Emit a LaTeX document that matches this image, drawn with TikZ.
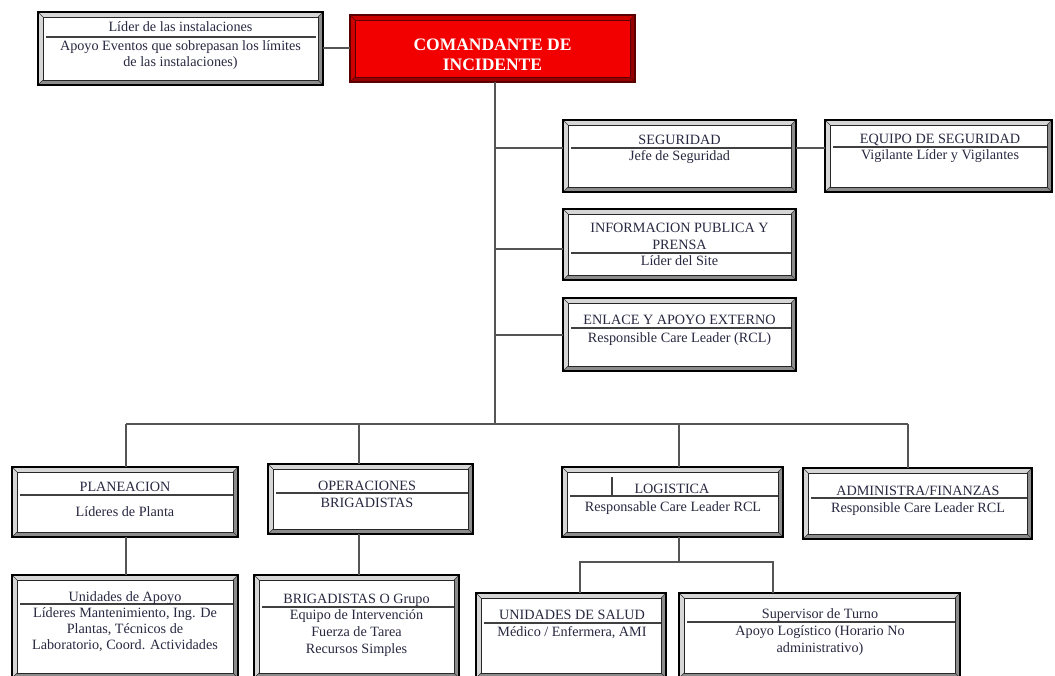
\documentclass[tikz,border=0pt]{standalone}
\usepackage{fontspec}
\setmainfont{Liberation Serif}
\definecolor{textc}{RGB}{40,40,65}
\definecolor{bevlight}{RGB}{214,214,214}
\definecolor{bevdark}{RGB}{140,140,140}
\definecolor{cmdred}{RGB}{242,0,0}
\definecolor{cmdlight}{RGB}{205,0,0}
\definecolor{cmddark}{RGB}{150,0,0}
\definecolor{cmdout}{RGB}{90,0,0}
\definecolor{connc}{RGB}{85,85,85}
\tikzset{
  bevouter/.style={draw=black, line width=1.4pt},
  bevinner/.style={draw=black!85, line width=0.9pt},
  bevdiag/.style={draw=black!80, line width=0.6pt},
  conn/.style={draw=connc, line width=1.5pt},
  divline/.style={draw=black!75, line width=1.2pt},
  txt/.style={font=\fontsize{14.2}{16}\selectfont, text=textc, inner sep=0pt, anchor=base},
  cmdtxt/.style={font=\bfseries\fontsize{17.5}{20}\selectfont, text=white, inner sep=0pt, anchor=base},
}
\newcommand{\bevelbox}[8]{%
  \pgfmathsetmacro{\bxa}{#2+5}\pgfmathsetmacro{\bya}{#3+5}%
  \pgfmathsetmacro{\bxb}{#4-5}\pgfmathsetmacro{\byb}{#5-5}%
  \fill[#6] (#2,#3) -- (#4,#3) -- (\bxb,\bya) -- (\bxa,\bya) -- (\bxa,\byb) -- (#2,#5) -- cycle;
  \fill[#7] (#4,#3) -- (#4,#5) -- (#2,#5) -- (\bxa,\byb) -- (\bxb,\byb) -- (\bxb,\bya) -- cycle;
  \draw[bevdiag] (#2,#3) -- (\bxa,\bya) (#4,#3) -- (\bxb,\bya) (#4,#5) -- (\bxb,\byb) (#2,#5) -- (\bxa,\byb);
  \filldraw[bevinner, fill=#8] (\bxa,\bya) rectangle (\bxb,\byb);
  \draw[bevouter] (#2,#3) rectangle (#4,#5);
  \node[inner sep=0pt, outer sep=0pt, minimum width={(#4-#2)*1pt}, minimum height={(#5-#3)*1pt}] (#1) at ({(#2+#4)/2},{(#3+#5)/2}) {};
}
\newcommand{\divider}[3]{\draw[divline] ({#1+8},#3) -- ({#2-5},#3);}
\begin{document}
\begin{tikzpicture}[x=1pt,y=-1pt]
\useasboundingbox (0,0) rectangle (1055,676);
\fill[white] (0,0) rectangle (1055,676);

% ---- boxes
\bevelbox{lider}{38}{12}{323}{85}{bevlight}{bevdark}{white}
\begin{scope}[bevouter/.style={draw=cmdout, line width=1.4pt}, bevinner/.style={draw=cmdout, line width=0.9pt}, bevdiag/.style={draw=cmdout, line width=0.6pt}]
\bevelbox{cmd}{350}{15}{635}{82}{cmdlight}{cmddark}{cmdred}
\end{scope}
\bevelbox{seg}{563}{120}{796}{192}{bevlight}{bevdark}{white}
\bevelbox{equ}{825}{120}{1052}{192}{bevlight}{bevdark}{white}
\bevelbox{info}{563}{209}{796}{280}{bevlight}{bevdark}{white}
\bevelbox{enl}{563}{298}{796}{371}{bevlight}{bevdark}{white}
\bevelbox{plan}{12}{467}{238}{537}{bevlight}{bevdark}{white}
\bevelbox{oper}{268}{464}{473}{534}{bevlight}{bevdark}{white}
\bevelbox{log}{562}{467}{783}{537}{bevlight}{bevdark}{white}
\bevelbox{adm}{803}{468}{1032}{539}{bevlight}{bevdark}{white}
\bevelbox{unid}{12}{575}{238}{678}{bevlight}{bevdark}{white}
\bevelbox{brig}{254}{575}{459}{678}{bevlight}{bevdark}{white}
\bevelbox{salud}{476}{593}{666}{678}{bevlight}{bevdark}{white}
\bevelbox{sup}{679}{593}{960}{678}{bevlight}{bevdark}{white}

% ---- connectors
\coordinate (ly) at (0,48);
\coordinate (tk1) at (495,148);
\coordinate (tk2) at (495,249);
\coordinate (tk3) at (495,335);
\coordinate (bus) at (495,424);
\coordinate (d1) at (126,424);
\coordinate (d2) at (359,424);
\coordinate (d3) at (679,424);
\coordinate (d4) at (908,424);
\coordinate (lg) at (679,562);
\coordinate (lgl) at (580,562);
\coordinate (lgr) at (773,562);
\draw[conn] (lider.east |- ly) -- (cmd.west |- ly);
\draw[conn] (cmd.south -| bus) -- (bus);
\draw[conn] (tk1) -- (tk1 -| seg.west);
\draw[conn] (tk1 -| seg.east) -- (tk1 -| equ.west);
\draw[conn] (tk2) -- (tk2 -| info.west);
\draw[conn] (tk3) -- (tk3 -| enl.west);
\draw[conn] (d1) -- (d4);
\draw[conn] (d1) -- (d1 |- plan.north);
\draw[conn] (d2) -- (d2 |- oper.north);
\draw[conn] (d3) -- (d3 |- log.north);
\draw[conn] (d4) -- (d4 |- adm.north);
\draw[conn] (d1 |- plan.south) -- (d1 |- unid.north);
\draw[conn] (d2 |- oper.south) -- (d2 |- brig.north);
\draw[conn] (lg |- log.south) -- (lg);
\draw[conn] (lgl |- salud.north) -- (lgl) -- (lgr) -- (lgr |- sup.north);

% ---- texts and dividers
\draw[divline] (46,37) -- (316,37);
\node[txt] (t1) at (180.5,32) {Líder de las instalaciones};
\node[txt] (t2) at (180.5,51) {Apoyo Eventos que sobrepasan los límites};
\node[txt] (t3) at (180.5,67) {de las instalaciones)};

\node[cmdtxt] (c1) at (492.5,51) {COMANDANTE DE};
\node[cmdtxt] (c2) at (492.5,71) {INCIDENTE};

\divider{563}{796}{148}
\node[txt] (s1) at (679.5,145) {SEGURIDAD};
\node[txt] (s2) at (679.5,161) {Jefe de Seguridad};

\divider{825}{1052}{147}
\node[txt] (e1) at (940,144) {EQUIPO DE SEGURIDAD};
\node[txt] (e2) at (940,160) {Vigilante Líder y Vigilantes};

\divider{563}{796}{253}
\node[txt] (i1) at (679.5,233) {INFORMACION PUBLICA Y};
\node[txt] (i2) at (679.5,250) {PRENSA};
\node[txt] (i3) at (679.5,266) {Líder del Site};

\divider{563}{796}{328}
\node[txt] (n1) at (679.5,325) {ENLACE Y APOYO EXTERNO};
\node[txt] (n2) at (679.5,342) {Responsible Care Leader (RCL)};

\divider{12}{238}{495}
\node[txt] (p1) at (125,491) {PLANEACION};
\node[txt] (p2) at (125,516) {Líderes de Planta};

\divider{268}{473}{493}
\node[txt] (o1) at (367,490) {OPERACIONES};
\node[txt] (o2) at (367,507) {BRIGADISTAS};

\divider{562}{783}{496}
\draw[divline] (612,477) -- (612,496);
\node[txt] (g1) at (672,493) {LOGISTICA};
\node[txt] (g2) at (673,511) {Responsable Care Leader RCL};

\divider{803}{1032}{498}
\node[txt] (a1) at (918,495) {ADMINISTRA/FINANZAS};
\node[txt] (a2) at (918,512) {Responsible Care Leader RCL};

\divider{12}{238}{604}
\node[txt] (u1) at (125,601) {Unidades de Apoyo};
\node[txt] (u2) at (125,617) {Líderes Mantenimiento, Ing. De};
\node[txt] (u3) at (125,633) {Plantas, Técnicos de};
\node[txt] (u4) at (125,649) {Laboratorio, Coord. Actividades};

\divider{254}{459}{607}
\node[txt] (b1) at (356.5,603) {BRIGADISTAS O Grupo};
\node[txt] (b2) at (356.5,619) {Equipo de Intervención};
\node[txt] (b3) at (356.5,636) {Fuerza de Tarea};
\node[txt] (b4) at (356.5,653) {Recursos Simples};

\divider{476}{666}{623}
\node[txt] (h1) at (572,619) {UNIDADES DE SALUD};
\node[txt] (h2) at (572,636) {Médico / Enfermera, AMI};

\divider{679}{960}{622}
\node[txt] (v1) at (820,618) {Supervisor de Turno};
\node[txt] (v2) at (820,635) {Apoyo Logístico (Horario No};
\node[txt] (v3) at (820,652) {administrativo)};
\end{tikzpicture}
\end{document}
